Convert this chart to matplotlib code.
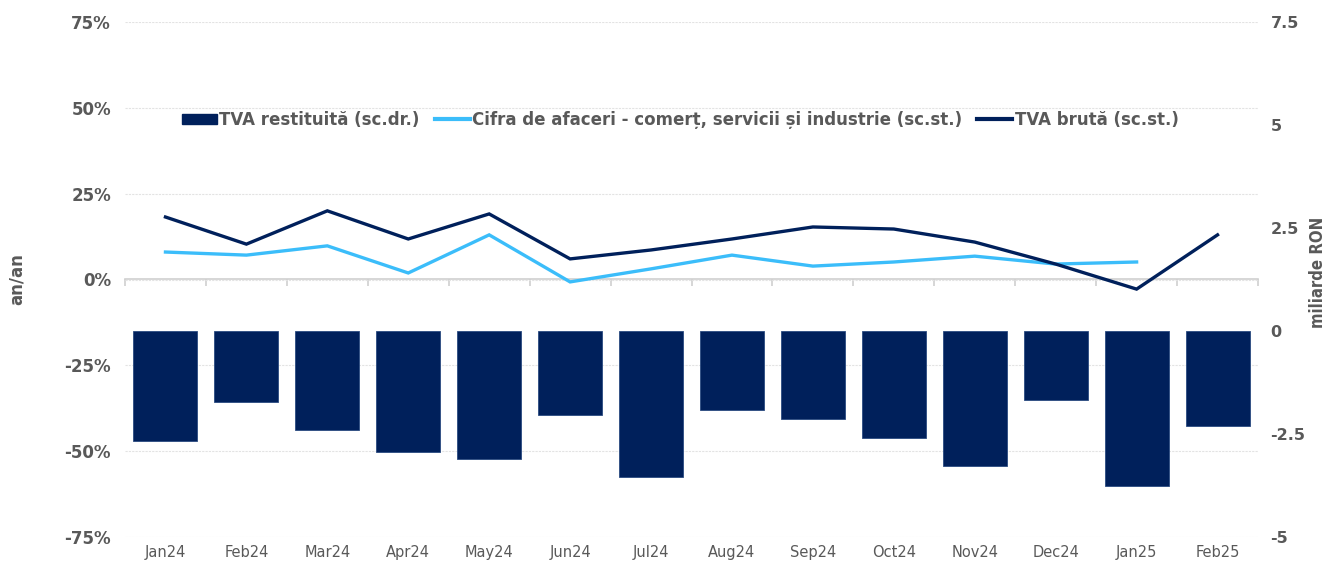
import matplotlib
matplotlib.use("Agg")
import matplotlib.pyplot as plt
import numpy as np
from matplotlib.patches import Patch
from matplotlib.lines import Line2D

months = ["Jan24", "Feb24", "Mar24", "Apr24", "May24", "Jun24", "Jul24",
          "Aug24", "Sep24", "Oct24", "Nov24", "Dec24", "Jan25", "Feb25"]
tva_restituita = [-2.67, -1.72, -2.40, -2.94, -3.11, -2.04, -3.54,
                  -1.92, -2.14, -2.60, -3.28, -1.67, -3.76, -2.31]
cifra_afaceri = [8.0, 7.1, 9.8, 1.9, 13.0, -0.7, 3.1,
                 7.1, 3.9, 5.1, 6.8, 4.5, 5.1, np.nan]
tva_bruta = [18.2, 10.3, 20.0, 11.8, 19.1, 6.0, 8.6,
             11.8, 15.3, 14.7, 10.9, 4.5, -2.8, 13.0]
left_ticks = [-75, -50, -25, 0, 25, 50, 75]
right_ticks = [-5, -2.5, 0, 2.5, 5, 7.5]
right_labels = ["-5", "-2.5", "0", "2.5", "5", "7.5"]

NAVY = "#00205B"
LIGHT = "#3BBDFA"
GRAY = "#595959"

fig = plt.figure(figsize=(13.28, 5.63), dpi=100)
ax1 = fig.add_axes([125/1328, 26/563, (1258-125)/1328, (537-22)/563])
ax2 = ax1.twinx()

x = np.arange(len(months))
ax2.bar(x, tva_restituita, width=0.79, color=NAVY, edgecolor="#2A4A80", lw=0.6, zorder=2)
ax1.plot(x, cifra_afaceri, color=LIGHT, lw=2.4, solid_joinstyle="miter", zorder=3)
ax1.plot(x, tva_bruta, color=NAVY, lw=2.4, solid_joinstyle="miter", zorder=3)

ax1.set_xlim(-0.5, len(months) - 0.5)
ax1.set_ylim(-75, 75)
ax2.set_ylim(-5, 7.5)

ax1.set_yticks(left_ticks)
ax1.set_yticklabels([f"{t}%" for t in left_ticks], fontweight="bold", color=GRAY, fontsize=12)
ax2.set_yticks(right_ticks)
ax2.set_yticklabels(right_labels, fontweight="bold", color=GRAY, fontsize=11.5)
ax1.tick_params(axis="y", length=0, pad=10)
ax2.tick_params(axis="y", length=0, pad=9)

ax1.set_xticks(x)
ax1.set_xticklabels(months, color=GRAY, fontsize=10.5)
ax1.tick_params(axis="x", length=0, pad=6)

ax1.grid(axis="y", color="#E3E3E3", lw=0.8, ls=(0, (2, 1)))
ax1.set_axisbelow(True)
for ax in (ax1, ax2):
    for s in ax.spines.values():
        s.set_visible(False)

sec = ax1.secondary_xaxis(0.5)
sec.set_xticks(np.arange(-0.5, len(months), 1.0))
sec.set_xticklabels([])
sec.tick_params(axis="x", length=5, color="#D0D0D0", width=1.2, direction="in")
for s in sec.spines.values():
    s.set_color("#D0D0D0")
    s.set_linewidth(1.2)

fig.text(17/1328, 1 - 279/563, "an/an", rotation=90, ha="center", va="center",
         fontweight="bold", color=GRAY, fontsize=12)
fig.text(1318/1328, 1 - 272/563, "miliarde RON", rotation=90, ha="center", va="center",
         fontweight="bold", color=GRAY, fontsize=12, fontstretch="condensed")

handles = [Patch(facecolor=NAVY, edgecolor=NAVY),
           Line2D([], [], color=LIGHT, lw=3),
           Line2D([], [], color=NAVY, lw=3)]
labels = ["TVA restituită (sc.dr.)",
          "Cifra de afaceri - comerț, servicii și industrie (sc.st.)",
          "TVA brută (sc.st.)"]
leg = ax2.legend(handles, labels, loc="center", bbox_to_anchor=(0.49, 0.81), ncol=3,
                 frameon=False, handlelength=2.1, handleheight=0.55, handletextpad=0.15,
                 columnspacing=0.9, prop={"weight": "bold", "size": 12})
for t in leg.get_texts():
    t.set_color(GRAY)

fig.savefig("out.png", dpi=100)
